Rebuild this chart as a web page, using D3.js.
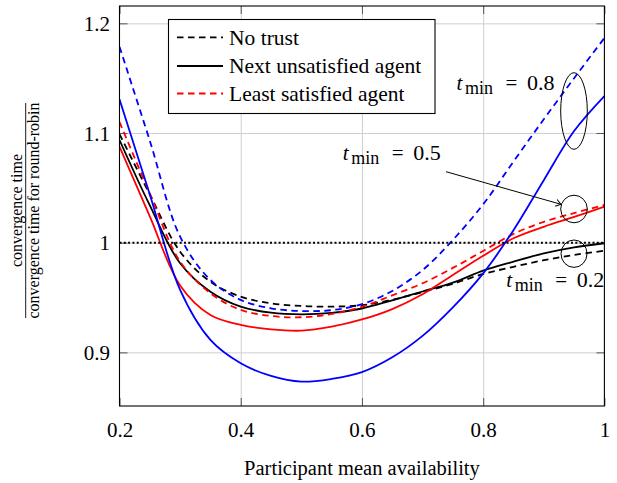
<!DOCTYPE html>
<html><head><meta charset="utf-8">
<script src="https://cdn.jsdelivr.net/npm/d3@7"></script>
</head><body style="margin:0;background:#fff">
<svg id="c" width="617" height="483" style="display:block"></svg>
<script>
// ---------- data ----------
const availability = [0.2,0.25,0.3,0.35,0.4,0.45,0.5,0.55,0.6,0.65,0.7,0.75,0.8,0.85,0.9,0.95,1.0];
const t02NoTrust   = [1.099,1.044,0.9918,0.9644,0.9508,0.9447,0.9423,0.9417,0.943,0.948,0.955,0.9625,0.9715,0.978,0.984,0.9888,0.9927];
const t02Next      = [1.0936,1.034,0.9812,0.9553,0.9417,0.9362,0.9347,0.936,0.940,0.9475,0.9555,0.9635,0.9745,0.9827,0.9903,0.9958,0.9995];
const t05NoTrust   = [1.110,1.045,0.9827,0.9539,0.9387,0.9332,0.932,0.935,0.9415,0.952,0.963,0.977,0.9925,1.008,1.019,1.027,1.0344];
const t05Next      = [1.0875,1.024,0.961,0.934,0.925,0.921,0.9198,0.9234,0.930,0.9395,0.953,0.9705,0.988,1.004,1.0145,1.0235,1.0328];
const t08NoTrust   = [1.1787,1.093,1.0055,0.966,0.9478,0.9402,0.9377,0.9385,0.944,0.956,0.975,1.0025,1.035,1.074,1.1125,1.150,1.1866];
const t08Next      = [1.1307,1.044,0.9569,0.9113,0.890,0.8785,0.8733,0.8758,0.882,0.8955,0.915,0.941,0.972,1.0114,1.057,1.1018,1.1337];
const referenceLevel = 1.0;

const xTicks = [0.2,0.4,0.6,0.8,1.0];
const xTickLabels = ["0.2","0.4","0.6","0.8","1"];
const yTicks = [0.9,1.0,1.1,1.2];
const yTickLabels = ["0.9","1","1.1","1.2"];
const xGrid = [0.4,0.6,0.8];
const yGrid = [0.9,1.0,1.1,1.2];
const legendLabels = ["No trust","Next unsatisfied agent","Least satisfied agent"];
const xLabel = "Participant mean availability";
const yLabelNum = "convergence time";
const yLabelDen = "convergence time for round-robin";
const tminLabels = ["0.8","0.5","0.2"];

// ---------- setup ----------
const FONT = "Liberation Serif, Times New Roman, serif";
const svg = d3.select("#c").style("font-family",FONT);
const L = 119.5, R = 604.4, T = 6, B = 406;
const x = d3.scaleLinear().domain([0.2,1.0]).range([L,R]);
const y = d3.scaleLinear().domain([0.8511,1.2158]).range([B,T]);

const defs = svg.append("defs");
defs.append("clipPath").attr("id","clip")
  .append("rect").attr("x",L).attr("y",T).attr("width",R-L).attr("height",B-T);

// grid
const gx = svg.append("g").attr("transform",`translate(0,${B})`)
  .call(d3.axisBottom(x).tickValues(xGrid).tickSize(-(B-T)).tickFormat(""));
gx.select(".domain").remove();
gx.selectAll("line").attr("stroke","#cfcfcf").attr("stroke-width",1);
const gy = svg.append("g").attr("transform",`translate(${L},0)`)
  .call(d3.axisLeft(y).tickValues(yGrid).tickSize(-(R-L)).tickFormat(""));
gy.select(".domain").remove();
gy.selectAll("line").attr("stroke","#cfcfcf").attr("stroke-width",1);

// tick marks (inward, all sides)
function ticks(axis, tr){
  const g = svg.append("g").attr("transform",tr).call(axis);
  g.select(".domain").remove();
  g.selectAll("line").attr("stroke","#555").attr("stroke-width",1);
  g.selectAll("text").remove();
}
ticks(d3.axisBottom(x).tickValues(xTicks).tickSize(-8), `translate(0,${B})`);
ticks(d3.axisTop(x).tickValues(xTicks).tickSize(-8), `translate(0,${T})`);
ticks(d3.axisLeft(y).tickValues(yTicks).tickSize(-8), `translate(${L},0)`);
ticks(d3.axisRight(y).tickValues(yTicks).tickSize(-8), `translate(${R},0)`);

// tick labels
const bl = svg.append("g").attr("transform",`translate(0,${B})`)
  .call(d3.axisBottom(x).tickValues(xTicks).tickSize(0).tickPadding(16)
    .tickFormat((d,i)=>xTickLabels[i]));
bl.select(".domain").remove();
bl.style("font-family",FONT).attr("font-size",21);
const ll = svg.append("g").attr("transform",`translate(${L},0)`)
  .call(d3.axisLeft(y).tickValues(yTicks).tickSize(0).tickPadding(9.5)
    .tickFormat((d,i)=>yTickLabels[i]));
ll.select(".domain").remove();
ll.style("font-family",FONT).attr("font-size",21);
ll.selectAll("text").attr("dy","0.34em");

// series
const series = [
  {v:t02NoTrust, c:"#000", dash:true},
  {v:t02Next,    c:"#000", dash:false},
  {v:t05NoTrust, c:"#ff0000", dash:true},
  {v:t05Next,    c:"#ff0000", dash:false},
  {v:t08NoTrust, c:"#0000ff", dash:true},
  {v:t08Next,    c:"#0000ff", dash:false}
];
const line = d3.line().x(d=>x(d[0])).y(d=>y(d[1])).curve(d3.curveCatmullRom.alpha(0.5));
const plot = svg.append("g").attr("clip-path","url(#clip)");
series.forEach(s=>{
  plot.append("path").datum(availability.map((a,i)=>[a,s.v[i]]))
    .attr("d",line).attr("fill","none").attr("stroke",s.c)
    .attr("stroke-width",1.8).attr("stroke-dasharray",s.dash?"6.5,4.5":null);
});
// reference dotted line
plot.append("line").attr("x1",x(0.2)).attr("x2",x(1.0))
  .attr("y1",y(referenceLevel)).attr("y2",y(referenceLevel))
  .attr("stroke","#000").attr("stroke-width",2).attr("stroke-dasharray","2,2.3");

// frame
svg.append("rect").attr("x",L).attr("y",T).attr("width",R-L).attr("height",B-T)
  .attr("fill","none").attr("stroke","#000").attr("stroke-width",1.1);

// annotations
const ann = svg.append("g");
function ellipse(cx,cy,rx,ry){
  ann.append("ellipse").attr("cx",cx).attr("cy",cy).attr("rx",rx).attr("ry",ry)
    .attr("fill","none").attr("stroke","#000").attr("stroke-width",1);
}
ellipse(574,111,13.3,38.3);
ellipse(574,209,13.3,13.8);
ellipse(574,253.7,13,13.7);

defs.append("marker").attr("id","arr").attr("markerUnits","userSpaceOnUse")
  .attr("viewBox","-6 -5 8 10").attr("refX",0).attr("refY",0)
  .attr("markerWidth",8).attr("markerHeight",10).attr("orient","auto")
  .append("path").attr("d","M-5,-3.5 Q-1.5,-0.8 0,0 Q-1.5,0.8 -5,3.5")
  .attr("fill","none").attr("stroke","#000").attr("stroke-width",1);
ann.append("line").attr("x1",446).attr("y1",171.7).attr("x2",561).attr("y2",204.3)
  .attr("stroke","#000").attr("stroke-width",1).attr("marker-end","url(#arr)");

function tmin(x0, base, val){
  const t = ann.append("text").attr("font-size",21).style("font-family",FONT);
  t.append("tspan").attr("x",x0).attr("y",base).attr("font-style","italic").text("t");
  t.append("tspan").attr("x",x0+8.5).attr("y",base+4).attr("font-size",18).text("min");
  t.append("tspan").attr("x",x0+49).attr("y",base).text("=");
  t.append("tspan").attr("x",x0+70.5).attr("y",base).attr("font-size",22).text(val);
}
tmin(456.5, 89.5, tminLabels[0]);
tmin(342.7, 160, tminLabels[1]);
tmin(506.2, 286.5, tminLabels[2]);

// legend
const lg = svg.append("g");
lg.append("rect").attr("x",168.5).attr("y",19.5).attr("width",266.5).attr("height",94)
  .attr("fill","#fff").attr("stroke","#000").attr("stroke-width",1.1);
const legendStyles = [
  {c:"#000", dash:true},
  {c:"#000", dash:false},
  {c:"#ff0000", dash:true}
];
const rowY = [37.3, 66, 93.5];
legendLabels.forEach((lab,i)=>{
  lg.append("line").attr("x1",177).attr("x2",223).attr("y1",rowY[i]).attr("y2",rowY[i])
    .attr("stroke",legendStyles[i].c).attr("stroke-width",1.8)
    .attr("stroke-dasharray",legendStyles[i].dash?"6.5,4.5":null);
  lg.append("text").attr("x",229).attr("y",rowY[i]+7.2).attr("font-size",21.5).text(lab);
});

// axis labels
svg.append("text").attr("x",(L+R)/2).attr("y",475).attr("text-anchor","middle")
  .attr("font-size",20.5).text(xLabel);
const yl = svg.append("g").attr("transform","translate(0,210.5) rotate(-90)");
yl.append("text").attr("x",0).attr("y",22).attr("text-anchor","middle").attr("font-size",16).text(yLabelNum);
yl.append("line").attr("x1",-107.5).attr("x2",107.5).attr("y1",25.7).attr("y2",25.7)
  .attr("stroke","#000").attr("stroke-width",0.9);
yl.append("text").attr("x",0).attr("y",39.3).attr("text-anchor","middle").attr("font-size",16).text(yLabelDen);

svg.selectAll("text").style("font-family",FONT).attr("fill","#000");
</script>
</body></html>
